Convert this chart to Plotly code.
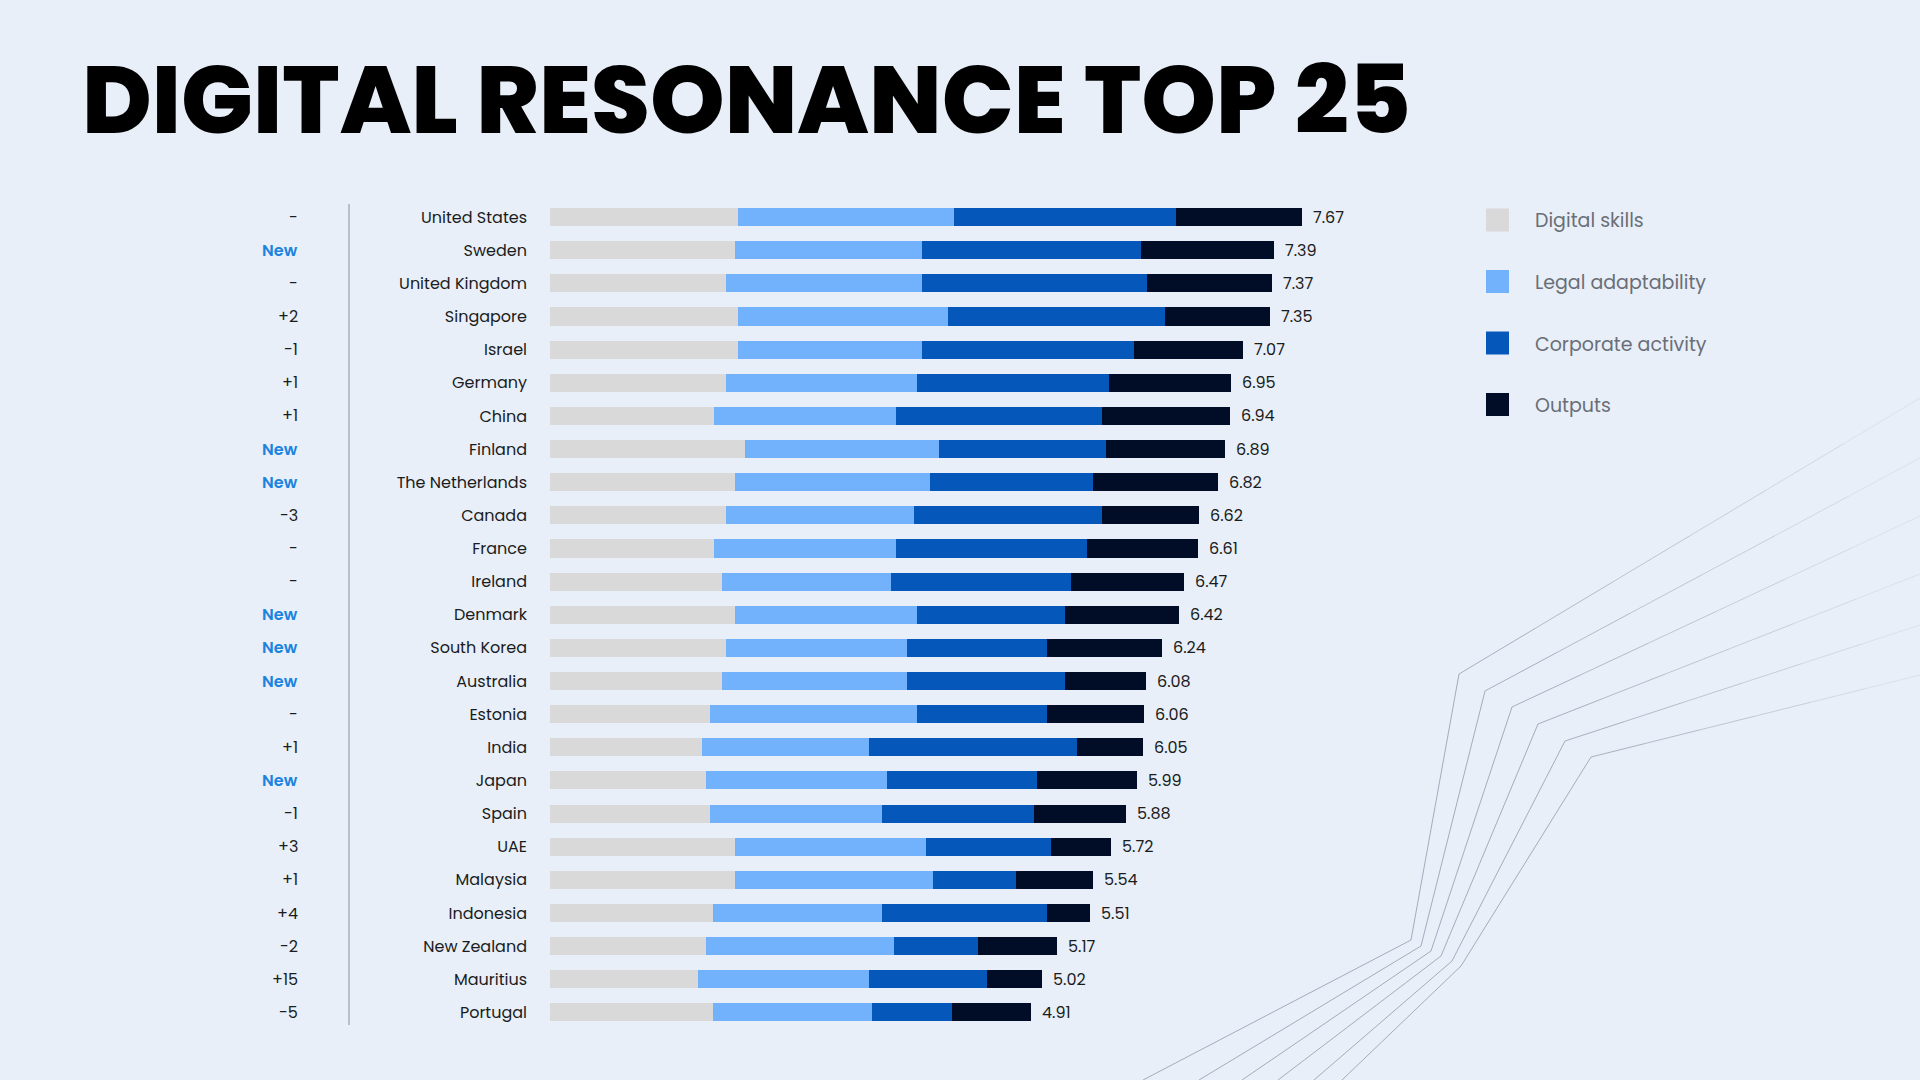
import plotly.graph_objects as go

# ---------------- data ----------------
countries = ["United States", "Sweden", "United Kingdom", "Singapore", "Israel", "Germany",
             "China", "Finland", "The Netherlands", "Canada", "France", "Ireland", "Denmark",
             "South Korea", "Australia", "Estonia", "India", "Japan", "Spain", "UAE",
             "Malaysia", "Indonesia", "New Zealand", "Mauritius", "Portugal"]
rank_change = ["-", "New", "-", "+2", "-1", "+1", "+1", "New", "New", "-3", "-", "-", "New",
               "New", "New", "-", "+1", "New", "-1", "+3", "+1", "+4", "-2", "+15", "-5"]
totals = [7.67, 7.39, 7.37, 7.35, 7.07, 6.95, 6.94, 6.89, 6.82, 6.62, 6.61, 6.47, 6.42,
          6.24, 6.08, 6.06, 6.05, 5.99, 5.88, 5.72, 5.54, 5.51, 5.17, 5.02, 4.91]
digital_skills = [1.92, 1.89, 1.80, 1.92, 1.92, 1.80, 1.67, 1.99, 1.89, 1.80, 1.67, 1.75, 1.89,
                  1.80, 1.75, 1.63, 1.55, 1.59, 1.63, 1.89, 1.89, 1.66, 1.59, 1.51, 1.66]
legal_adaptability = [2.20, 1.91, 2.00, 2.14, 1.88, 1.94, 1.86, 1.98, 1.99, 1.91, 1.86, 1.73, 1.85,
                      1.84, 1.89, 2.11, 1.70, 1.85, 1.76, 1.95, 2.02, 1.73, 1.92, 1.74, 1.63]
corporate_activity = [2.27, 2.23, 2.29, 2.22, 2.16, 1.96, 2.10, 1.70, 1.66, 1.92, 1.95, 1.84, 1.51,
                      1.43, 1.61, 1.33, 2.13, 1.53, 1.55, 1.27, 0.85, 1.68, 0.86, 1.21, 0.81]
outputs = [1.28, 1.36, 1.28, 1.07, 1.11, 1.25, 1.31, 1.22, 1.28, 0.99, 1.13, 1.15, 1.17,
           1.17, 0.83, 0.99, 0.67, 1.02, 0.94, 0.61, 0.78, 0.44, 0.80, 0.56, 0.81]

series_names = ["Digital skills", "Legal adaptability", "Corporate activity", "Outputs"]
series_values = [digital_skills, legal_adaptability, corporate_activity, outputs]
series_colors = ["#d9d9d9", "#72b1fc", "#0557b9", "#010d26"]

title_text = "DIGITAL RESONANCE TOP 25"

# ---------------- styling ----------------
W, H = 1920, 1080
BG = "#e8eff9"
FONT = "Poppins, Inter, 'Open Sans', sans-serif"
TEXT_DARK = "#1b1c20"


def px(x):
    return x / W


def py(y):
    return 1 - y / H


fig = go.Figure()
for name, vals, col in zip(series_names, series_values, series_colors):
    fig.add_trace(go.Bar(
        y=countries, x=vals, name=name, orientation="h",
        marker=dict(color=col, line=dict(width=0)),
        showlegend=False, hoverinfo="x+name",
    ))

annotations = []
# title
annotations.append(dict(
    text=title_text, xref="paper", yref="paper", x=px(80), y=py(99),
    xanchor="left", yanchor="middle", showarrow=False,
    font=dict(family=FONT, size=95, color="#000000", weight=800),
))
# rank change labels
for c, r in zip(countries, rank_change):
    is_new = r == "New"
    annotations.append(dict(
        text=r, xref="paper", yref="y", x=px(300), y=c,
        xanchor="right", yanchor="middle", showarrow=False,
        font=dict(family=FONT, size=16, color="#1a84de" if is_new else TEXT_DARK,
                  weight=600 if is_new else 400),
    ))
# total value labels
for c, t in zip(countries, totals):
    annotations.append(dict(
        text=f"{t:.2f}", xref="x", yref="y", x=t, y=c, xshift=9,
        xanchor="left", yanchor="middle", showarrow=False,
        font=dict(family=FONT, size=16, color=TEXT_DARK),
    ))
# legend (manual)
shapes = []
for i, (name, col) in enumerate(zip(series_names, series_colors)):
    cy = 220 + i * 61.5
    shapes.append(dict(type="rect", xref="paper", yref="paper",
                       x0=px(1486), x1=px(1509), y0=py(cy - 11.5), y1=py(cy + 11.5),
                       fillcolor=col, line=dict(width=0), layer="above"))
    annotations.append(dict(
        text=name, xref="paper", yref="paper", x=px(1533), y=py(cy + 1),
        xanchor="left", yanchor="middle", showarrow=False,
        font=dict(family=FONT, size=19, color="#6a6e76"),
    ))

# separator line
shapes.append(dict(type="line", xref="paper", yref="paper",
                   x0=px(349), x1=px(349), y0=py(204), y1=py(1025),
                   line=dict(color="#8a8f98", width=1)))

# decorative circuit lines (background ornament)
deco_bottom_x = [1143, 1199, 1242, 1278, 1314, 1342]
deco_knee1 = [(1411, 940), (1421, 946), (1431, 951), (1441, 956), (1452, 961), (1461, 966)]
deco_knee2 = [(1459, 674), (1485, 691), (1512, 707), (1538, 724), (1565, 741), (1591, 757)]
deco_end_y = [398, 458, 516, 574, 625, 675]
for bx, (ax, ay), (ux, uy), ey in zip(deco_bottom_x, deco_knee1, deco_knee2, deco_end_y):
    shapes.append(dict(type="path", xref="paper", yref="paper", layer="below",
                       path=f"M {px(bx)},{py(H)} L {px(ax)},{py(ay)} L {px(ux)},{py(uy)}",
                       line=dict(color="rgba(140,150,168,0.75)", width=1)))
    n = 6
    for k in range(n):
        x0 = ux + (W - ux) * k / n
        x1 = ux + (W - ux) * (k + 1) / n
        y0 = uy + (ey - uy) * k / n
        y1 = uy + (ey - uy) * (k + 1) / n
        a = 0.7 - 0.55 * k / (n - 1)
        shapes.append(dict(type="line", xref="paper", yref="paper", layer="below",
                           x0=px(x0), y0=py(y0), x1=px(x1), y1=py(y1),
                           line=dict(color=f"rgba(140,150,168,{a:.2f})", width=1)))

x_max = 8.0
unit_px = 98.0
fig.update_layout(
    width=W, height=H, autosize=False,
    margin=dict(l=0, r=0, t=0, b=0),
    paper_bgcolor=BG, plot_bgcolor=BG,
    barmode="stack", bargap=0.455,
    font=dict(family=FONT, color=TEXT_DARK),
    xaxis=dict(domain=[px(550), px(550 + x_max * unit_px)], range=[0, x_max],
               visible=False, fixedrange=True),
    yaxis=dict(domain=[py(1029), py(200.5)], autorange=False, range=[24.5, -0.5],
               categoryorder="array", categoryarray=countries,
               showgrid=False, showline=False, zeroline=False, ticks="",
               ticklabelstandoff=22,
               tickfont=dict(family=FONT, size=16, color=TEXT_DARK), fixedrange=True),
    annotations=annotations, shapes=shapes,
    showlegend=False,
)

fig.write_html("out.html", include_plotlyjs=True,
               config={"displayModeBar": False},
               post_script="document.body.style.margin='0';document.body.style.overflow='hidden';")
